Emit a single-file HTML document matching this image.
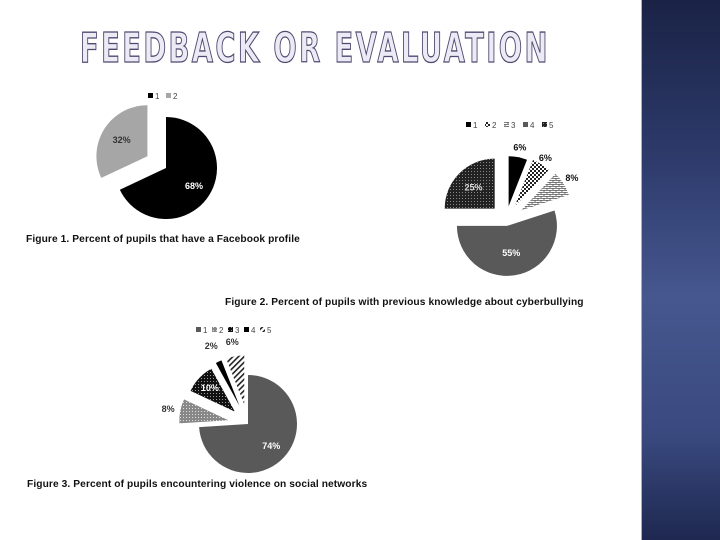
<!DOCTYPE html>
<html><head><meta charset="utf-8"><style>
body{margin:0;width:720px;height:540px;overflow:hidden;background:#fff;font-family:"Liberation Sans",sans-serif;position:relative}
#side{position:absolute;left:641px;top:0;width:79px;height:540px;background:linear-gradient(180deg,#1a2346 0%,#2e3b6c 30%,#46578f 55%,#3a4a80 80%,#1e2850 100%);border-left:1px solid #a8b0c8}
#title{position:absolute;left:80px;top:24px;font-size:41px;font-weight:bold;letter-spacing:3.5px;color:#eceaf4;-webkit-text-stroke:1.3px #4f4a70;font-family:"DejaVu Sans","Liberation Sans",sans-serif;white-space:nowrap;transform:scaleX(0.67);transform-origin:0 0}
.cap{position:absolute;font-size:10.2px;font-weight:bold;letter-spacing:0.1px;color:#111;white-space:nowrap}
</style></head><body>
<div id="side"></div>
<div id="title">FEEDBACK OR EVALUATION</div>
<div class="cap" style="left:26px;top:234px">Figure 1. Percent of pupils that have a Facebook profile</div>
<div class="cap" style="left:225px;top:297px">Figure 2. Percent of pupils with previous knowledge about cyberbullying</div>
<div class="cap" style="left:27px;top:479px">Figure 3. Percent of pupils encountering violence on social networks</div>
<svg id="svg" width="720" height="540" style="position:absolute;left:0;top:0">
<defs>
<pattern id="pCheck" width="4" height="4" patternUnits="userSpaceOnUse"><rect width="4" height="4" fill="#fff"/><rect width="2" height="2" fill="#222"/><rect x="2" y="2" width="2" height="2" fill="#222"/></pattern>
<pattern id="pBrick" width="6" height="4" patternUnits="userSpaceOnUse"><rect width="6" height="4" fill="#fff"/><path d="M0 0.5H6M0 2.5H6M1 0V2M4 2V4" stroke="#555" stroke-width="0.8"/></pattern>
<pattern id="pDark" width="3" height="3" patternUnits="userSpaceOnUse"><rect width="3" height="3" fill="#222"/><rect width="1" height="1" fill="#888"/></pattern>
<pattern id="pDot" width="3" height="3" patternUnits="userSpaceOnUse"><rect width="3" height="3" fill="#888"/><rect width="1" height="1" fill="#ddd"/></pattern>
<pattern id="pDarkDot" width="3" height="3" patternUnits="userSpaceOnUse"><rect width="3" height="3" fill="#111"/><rect width="1" height="1" fill="#999"/></pattern>
<pattern id="pHatch" width="4" height="4" patternUnits="userSpaceOnUse" patternTransform="rotate(45)"><rect width="4" height="4" fill="#fff"/><rect width="1.6" height="4" fill="#222"/></pattern>
</defs>
</svg>
<script>
// Figure 1
const cats1=["1","2"];
const vals1=[68,32];
// Figure 2
const cats2=["1","2","3","4","5"];
const vals2=[6,6,8,55,25];
// Figure 3
const cats3=["1","2","3","4","5"];
const vals3=[74,8,10,2,6];

const NS="http://www.w3.org/2000/svg";
const svg=document.getElementById('svg');
function mk(t,a){const e=document.createElementNS(NS,t);for(const k in a)e.setAttribute(k,a[k]);svg.appendChild(e);return e;}
function drawPie(cfg){
  const tot=cfg.vals.reduce((a,b)=>a+b,0);let acc=0;
  cfg.vals.forEach((v,i)=>{
    const a0=acc/tot*2*Math.PI,a1=(acc+v)/tot*2*Math.PI;acc+=v;
    const mid=(a0+a1)/2,off=cfg.off[i];
    const cx=cfg.cx+Math.sin(mid)*off,cy=cfg.cy-Math.cos(mid)*off,r=cfg.r;
    const x0=cx+Math.sin(a0)*r,y0=cy-Math.cos(a0)*r,x1=cx+Math.sin(a1)*r,y1=cy-Math.cos(a1)*r;
    const p=mk('path',{d:`M${cx} ${cy}L${x0} ${y0}A${r} ${r} 0 ${a1-a0>Math.PI?1:0} 1 ${x1} ${y1}Z`,fill:cfg.fills[i]});
    
    
    const lr=r*cfg.lf[i];
    const t=mk('text',{x:cx+Math.sin(mid)*lr,y:cy-Math.cos(mid)*lr+3,'text-anchor':'middle','font-size':'9','font-weight':'bold',fill:cfg.lc[i],'font-family':'Liberation Sans,sans-serif'});
    t.textContent=v+'%';
    
    
  });
  let lx=cfg.lx;
  cfg.cats.forEach((c,i)=>{
    const r=mk('rect',{x:lx,y:cfg.ly-6,width:5,height:5,fill:cfg.fills[i]});
    
    
    const t=mk('text',{x:lx+7,y:cfg.ly,'font-size':'8',fill:'#444','font-family':'Liberation Sans,sans-serif'});
    t.textContent=c;
    
    
    lx+=cfg.lstep;
  });
}
drawPie({name:'fig1',cats:cats1,vals:vals1,cx:166,cy:168,r:51,off:[0,22],fills:['#000','#a6a6a6'],lc:['#fff','#333'],lf:[0.65,0.6],lx:148,ly:99,lstep:18});
drawPie({name:'fig2',cats:cats2,vals:vals2,cx:506,cy:220,r:50,off:[14,16,18,6,16],fills:['#000','url(#pCheck)','url(#pBrick)','#595959','url(#pDark)'],lc:['#111','#111','#111','#fff','#ddd'],lf:[1.2,1.15,1.2,0.55,0.6],lx:466,ly:128,lstep:19});
drawPie({name:'fig3',cats:cats3,vals:vals3,cx:248,cy:424,r:49,off:[0,20,18,20,20],fills:['#595959','url(#pDot)','url(#pDarkDot)','#000','url(#pHatch)'],lc:['#fff','#333','#fff','#333','#333'],lf:[0.65,1.25,0.7,1.35,1.3],lx:196,ly:333,lstep:16});
</script>
</body></html>
